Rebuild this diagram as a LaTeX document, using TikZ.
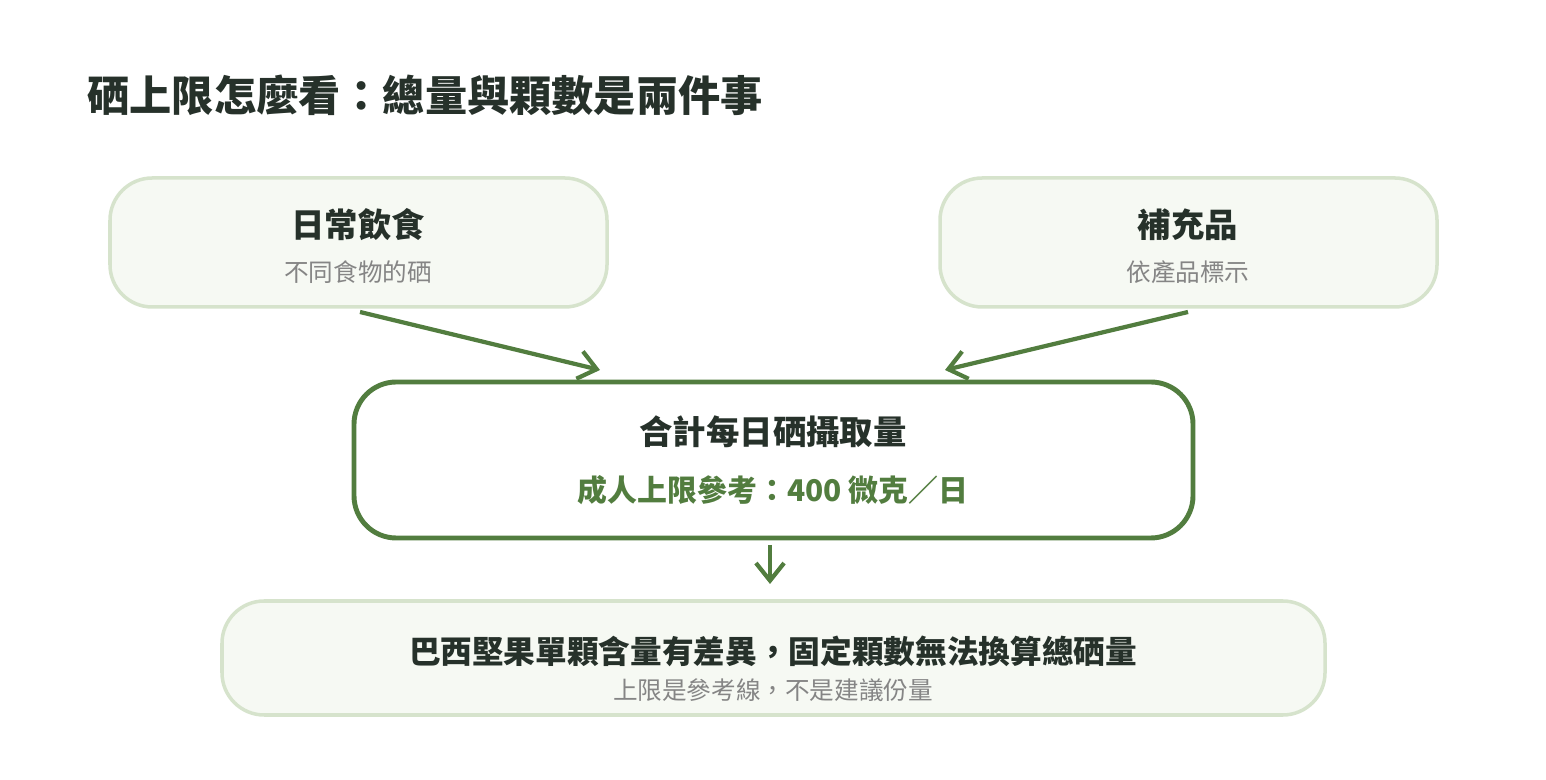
\documentclass[tikz,border=0pt]{standalone}
\usepackage{fontspec}
\setmainfont{Noto Sans CJK TC}
\usetikzlibrary{arrows.meta,positioning}
\definecolor{leaf}{HTML}{527D3F}
\definecolor{paleleaf}{HTML}{F6F9F3}
\definecolor{edgeleaf}{HTML}{D6E3CC}
\definecolor{ink}{HTML}{26312A}
\definecolor{mute}{HTML}{858585}

\begin{document}
\begin{tikzpicture}[x=0.01cm,y=-0.01cm,
  soft/.style={draw=edgeleaf,line width=1pt,fill=paleleaf,rounded corners=12pt},
  strong/.style={draw=leaf,line width=1.4pt,fill=white,rounded corners=12pt},
  head/.style={font=\fontsize{9.5}{11}\selectfont\bfseries,text=ink},
  sub/.style={font=\fontsize{7}{9}\selectfont,text=mute},
  flow/.style={draw=leaf,line width=1.2pt,-{Straight Barb[length=5pt,width=8pt]}}]
\useasboundingbox (0,0) rectangle (1546,780);
\node[anchor=west,font=\fontsize{12}{14}\selectfont\bfseries,text=ink] (title) at (75,95) {硒上限怎麼看：總量與顆數是兩件事};
% source boxes
\draw[soft] (110,178) rectangle (607,307);
\node[head] (diet) at (358,225) {日常飲食};
\node[sub] (dietsub) at (358,272) {不同食物的硒};
\draw[soft] (940,178) rectangle (1437,307);
\node[head] (supp) at (1188,225) {補充品};
\node[sub] (suppsub) at (1188,272) {依產品標示};
% total box
\draw[strong] (354,382) rectangle (1193,538);
\node[head] (total) at (773,432) {合計每日硒攝取量};
\node[font=\fontsize{8.5}{10}\selectfont\bfseries,text=leaf] (limit) at (773,490) {成人上限參考：400 微克／日};
% note box
\draw[soft] (222,601) rectangle (1325,715);
\node[head,font=\fontsize{9}{11}\selectfont\bfseries] (note) at (773,651) {巴西堅果單顆含量有差異，固定顆數無法換算總硒量};
\node[sub] (notesub) at (773,690) {上限是參考線，不是建議份量};
% connectors
\coordinate (dietout) at (360,312);
\coordinate (suppout) at (1188,312);
\coordinate (totalinL) at (600,370);
\coordinate (totalinR) at (945,370);
\coordinate (totalout) at (770,545);
\coordinate (notein) at (770,584);
\draw[flow] (dietout) -- (totalinL);
\draw[flow] (suppout) -- (totalinR);
\draw[flow] (totalout) -- (notein);
\end{tikzpicture}
\end{document}
